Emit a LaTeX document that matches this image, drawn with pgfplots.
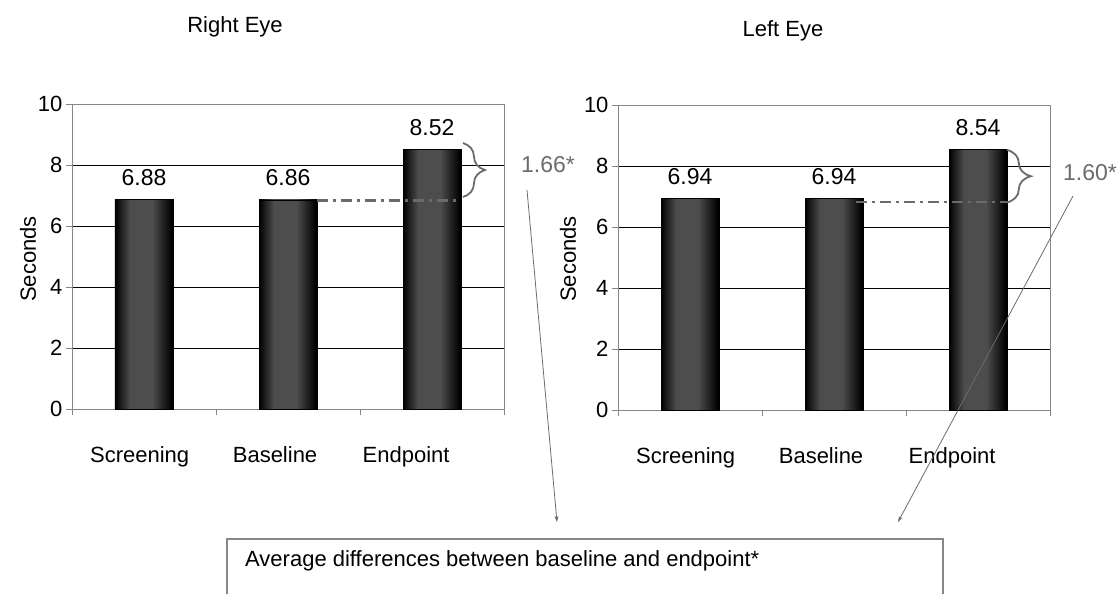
\documentclass[border=0pt]{standalone}
\usepackage{fontspec}
\setmainfont{Liberation Sans}
\usepackage{pgfplots}
\pgfplotsset{compat=1.18}
\usetikzlibrary{decorations.pathreplacing,arrows.meta}
\definecolor{barmid}{HTML}{4D4D4D}
\definecolor{annot}{HTML}{6B6B6B}
\definecolor{axgray}{HTML}{868686}
\pgfdeclarehorizontalshading{barshade}{100bp}{color(0bp)=(black); color(25bp)=(black); color(38bp)=(barmid); color(57bp)=(barmid); color(74bp)=(black); color(100bp)=(black)}
\newcommand\fs{\fontsize{22}{26}\selectfont}
\newcommand\fv{\fontsize{23}{27}\selectfont}

\pgfplotsset{
  eyeaxis/.style={
    scale only axis, width=432pt, height=305pt,
    anchor=south west,
    xmin=-0.5, xmax=2.5, ymin=0, ymax=10,
    ytick={0,2,4,6,8,10},
    xtick={-0.5,0.5,1.5,2.5}, xticklabels={},
    extra x ticks={-0.03,0.91,1.82},
    extra x tick labels={Screening,Baseline,Endpoint},
    extra x tick style={tick style={draw=none}, xticklabel style={yshift=-28pt}},
    xtick pos=bottom, ytick pos=left,
    tick align=outside, major tick length=6pt,
    tick style={axgray, line width=0.8pt},
    axis line style={axgray, line width=0.9pt},
    ymajorgrids, major grid style={black, line width=0.7pt},
    ticklabel style={font=\fs},
    /pgf/number format/assume math mode=true,
    clip=false,
  },
  eyebar/.style={ybar, bar width=58pt, bar shift=0pt, draw=black, line width=0.5pt,
    shade, shading=barshade,
    nodes near coords, point meta=explicit symbolic,
    nodes near coords style={font=\fv, text=black, yshift=10pt}},
}

\begin{document}
\begin{tikzpicture}
\useasboundingbox (0,0) rectangle (1119pt,594pt);

% Right Eye
\begin{axis}[eyeaxis, at={(72pt,185pt)}]
\addplot[eyebar] coordinates {(0,6.88) [6.88]};
\addplot[eyebar] coordinates {(1,6.86) [6.86]};
\addplot[eyebar] coordinates {(2,8.52) [8.52]};
\draw[annot, line width=2.4pt, dash pattern=on 11pt off 5pt on 3pt off 5pt]
  (axis cs:1.2,6.84) -- (axis cs:2.2,6.84);
\draw[annot, line width=1.8pt, decorate, decoration={brace, amplitude=22pt}]
  (axis cs:2.215,8.72) -- (axis cs:2.215,6.95);
\end{axis}

% Left Eye
\begin{axis}[eyeaxis, at={(618pt,184pt)}]
\addplot[eyebar] coordinates {(0,6.94) [6.94]};
\addplot[eyebar] coordinates {(1,6.94) [6.94]};
\addplot[eyebar] coordinates {(2,8.54) [8.54]};
\draw[annot, line width=2.4pt, dash pattern=on 11pt off 5pt on 3pt off 5pt]
  (axis cs:1.15,6.82) -- (axis cs:2.2,6.82);
\draw[annot, line width=1.8pt, decorate, decoration={brace, amplitude=24pt}]
  (axis cs:2.2,8.53) -- (axis cs:2.2,6.80);
\end{axis}

% titles and labels
\node[font=\fs, anchor=base] at (235pt,561pt) {Right Eye};
\node[font=\fs, anchor=base] at (783pt,557pt) {Left Eye};
\node[font=\fs, rotate=90] at (28pt,335pt) {Seconds};
\node[font=\fs, rotate=90] at (568pt,335pt) {Seconds};

% difference annotations
\node[font=\fv, text=annot] at (548pt,429pt) {1.66*};
\node[font=\fv, text=annot] at (1090pt,421pt) {1.60*};
\draw[annot, line width=0.8pt, -{Stealth[length=6pt,width=4pt]}] (527pt,404pt) -- (557pt,72pt);
\draw[annot, line width=0.8pt, -{Stealth[length=6pt,width=4pt]}] (1073pt,398pt) -- (898pt,72pt);

% bottom box
\draw[axgray, line width=1.2pt] (227pt,-2pt) -- (227pt,55pt) -- (943pt,55pt) -- (943pt,-2pt);
\node[font=\fs, anchor=base west, inner sep=0pt] at (245pt,27pt) {Average differences between baseline and endpoint*};
\end{tikzpicture}
\end{document}
